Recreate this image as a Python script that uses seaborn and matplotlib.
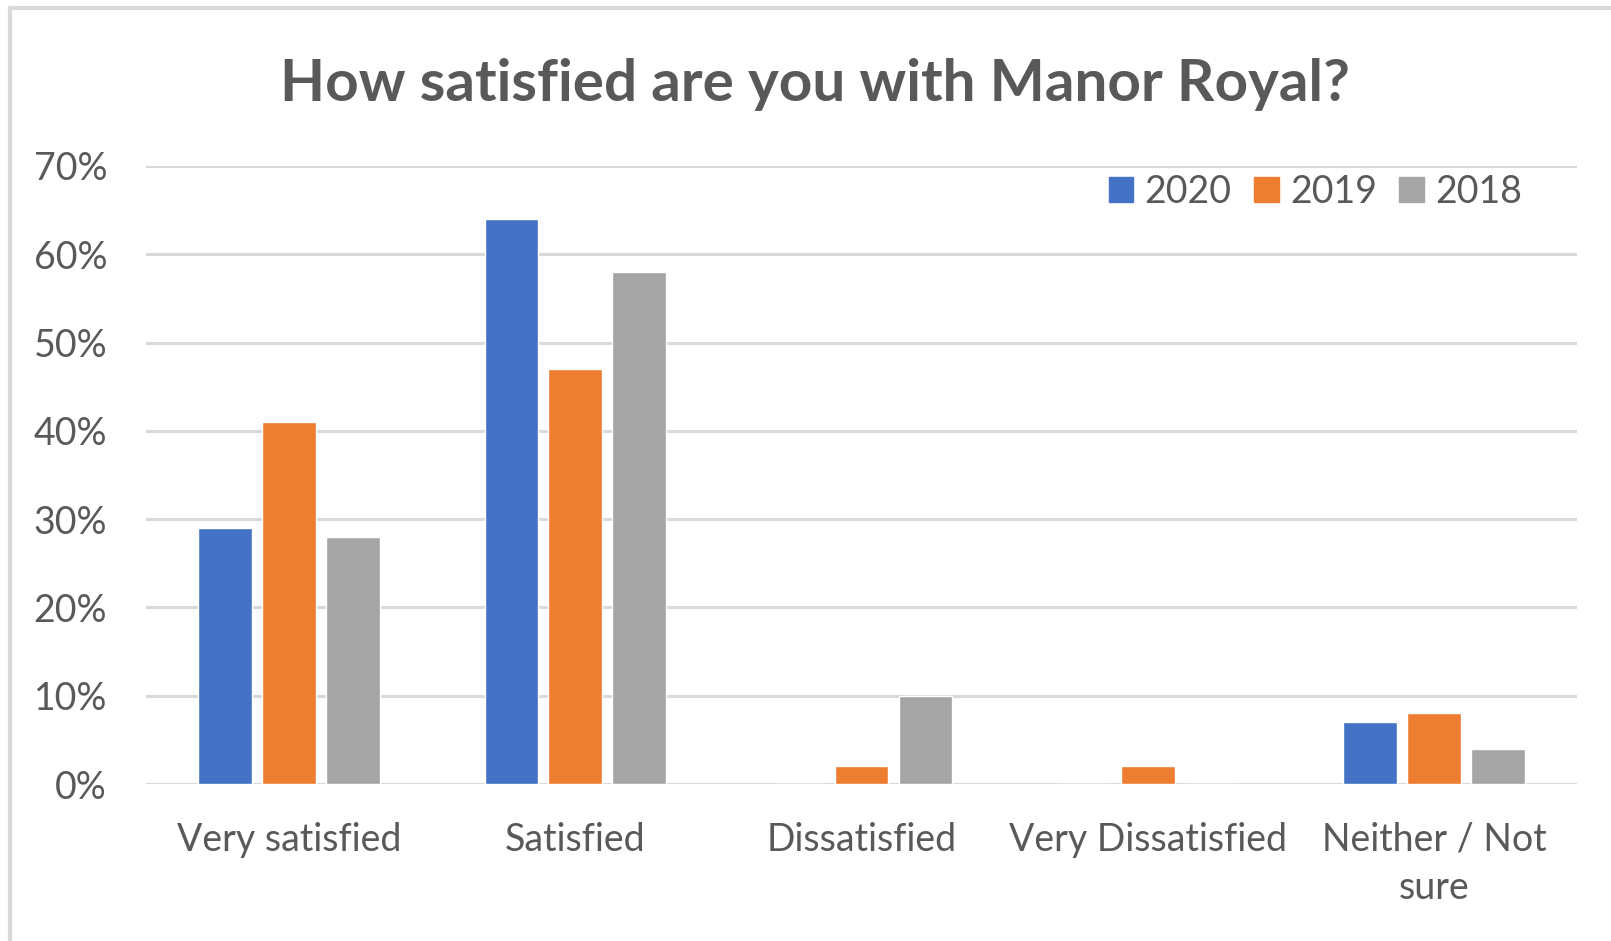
import matplotlib.pyplot as plt
import matplotlib.patches as mpatches
from matplotlib.lines import Line2D
import pandas as pd
import seaborn as sns

categories = ['Very satisfied', 'Satisfied', 'Dissatisfied', 'Very Dissatisfied', 'Neither / Not\nsure']
years = ['2020', '2019', '2018']
v2020 = [29, 64, 0, 0, 7]
v2019 = [41, 47, 2, 2, 8]
v2018 = [28, 58, 10, 0, 4]
yticks = [0, 10, 20, 30, 40, 50, 60, 70]
ytick_labels = ['0%', '10%', '20%', '30%', '40%', '50%', '60%', '70%']

df = pd.DataFrame({
    'category': categories * 3,
    'year': [y for y in years for _ in categories],
    'value': v2020 + v2019 + v2018,
})

sns.set_style('white')
plt.rcParams['font.family'] = ['Lato', 'DejaVu Sans']
txt = '#595959'

fig = plt.figure(figsize=(16.11, 9.41), dpi=100)
ax = fig.add_axes([0.0906, 0.1668, 0.8884, 0.6568])

palette = {'2020': '#4472C4', '2019': '#ED7D31', '2018': '#A5A5A5'}
sns.barplot(data=df, x='category', y='value', hue='year', hue_order=years,
            palette=palette, width=0.67, gap=0.16, saturation=1, ax=ax, legend=False)

ax.set_ylim(0, 70)
ax.set_yticks(yticks)
ax.set_yticklabels(ytick_labels)
ax.set_xlim(-0.5, 4.5)
ax.grid(axis='y', color='#D9D9D9', linewidth=2.2)
ax.set_axisbelow(True)
for s in ax.spines.values():
    s.set_visible(False)
ax.tick_params(axis='both', length=0, labelsize=27, labelcolor=txt)
ax.tick_params(axis='y', pad=28)
ax.tick_params(axis='x', pad=27)
for lab in ax.get_xticklabels():
    lab.set_linespacing(1.42)
ax.set_xlabel('')
ax.set_ylabel('')

handles = [mpatches.Patch(color=palette[y], label=y) for y in years]
ax.legend(handles=handles, ncol=3, loc='upper right', bbox_to_anchor=(0.985, 1.042),
          frameon=False, fontsize=27, labelcolor=txt, handlelength=0.65, handleheight=0.65,
          handletextpad=0.3, columnspacing=0.6)

fig.text(0.506, 0.91, 'How satisfied are you with Manor Royal?', ha='center', va='center',
         fontsize=42, fontweight='bold', color=txt)

# outer chart border (only top and left visible)
fig.add_artist(Line2D([10 / 1611, 1.0], [1 - 8 / 941, 1 - 8 / 941], color='#D9D9D9', linewidth=3))
fig.add_artist(Line2D([10 / 1611, 10 / 1611], [0.0, 1 - 8 / 941], color='#D9D9D9', linewidth=3))

fig.savefig('out.png', dpi=100, facecolor='white')
